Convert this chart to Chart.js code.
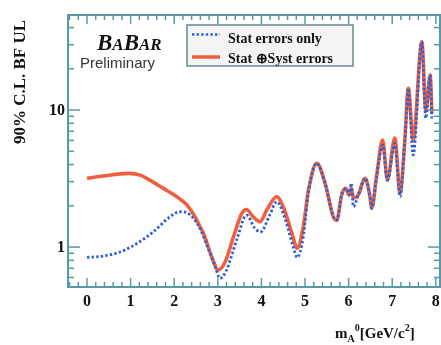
<!DOCTYPE html>
<html><head><meta charset="utf-8">
<script src="https://cdn.jsdelivr.net/npm/chart.js@4/dist/chart.umd.min.js"></script>
<style>html,body{margin:0;padding:0;background:#fff;overflow:hidden}#c{display:block}</style>
</head><body>
<canvas id="c" width="441" height="345"></canvas>
<script>
// ---- data ----
const massStat = [0,0.37,0.76,1.14,1.52,1.90,2.13,2.29,2.44,2.59,2.75,2.94,3.05,3.20,3.43,3.66,3.85,3.98,4.19,4.35,4.54,4.73,4.82,4.96,5.08,5.27,5.46,5.65,5.73,5.84,5.94,6.01,6.06,6.11,6.22,6.38,6.49,6.53,6.64,6.78,6.89,7.06,7.18,7.29,7.37,7.48,7.68,7.77,7.87,7.91];
const statOnly = [0.84,0.86,0.92,1.06,1.29,1.66,1.81,1.78,1.62,1.37,1.03,0.72,0.59,0.68,1.12,1.71,1.37,1.29,1.71,2.14,1.62,1.00,0.84,1.19,2.55,4.08,2.92,1.66,1.57,2.40,2.68,2.40,2.92,1.97,2.40,3.17,2.33,1.92,3.26,5.55,3.08,5.71,2.33,6.04,14.4,4.69,31.5,8.74,18.0,8.7];
const massSyst = [0,0.37,0.95,1.22,1.44,1.75,2.06,2.29,2.48,2.59,2.67,2.86,3.01,3.17,3.36,3.55,3.66,3.81,3.97,4.12,4.35,4.50,4.70,4.82,4.96,5.08,5.27,5.46,5.65,5.73,5.84,5.94,6.01,6.06,6.11,6.22,6.38,6.49,6.53,6.64,6.78,6.89,7.06,7.18,7.29,7.37,7.48,7.68,7.77,7.87,7.91];
const statSyst = [3.17,3.30,3.45,3.35,3.08,2.68,2.33,2.03,1.66,1.41,1.26,0.85,0.68,0.78,1.19,1.76,1.88,1.66,1.53,1.86,2.33,1.97,1.26,0.98,1.41,2.61,4.08,2.92,1.66,1.57,2.40,2.68,2.40,2.70,2.28,2.40,3.17,2.33,1.92,3.26,6.04,3.08,6.25,2.48,6.04,14.4,6.04,31.5,10.0,18.0,9.5];
const seriesNames = ['Stat errors only', 'Stat \u2295Syst errors'];
const xTickValues = [0,1,2,3,4,5,6,7,8];
const xTickLabels = ['0','1','2','3','4','5','6','7','8'];
const yTickValues = [1,10];
const yTickLabels = ['1','10'];
const yMinorValues = [0.6,0.7,0.8,0.9,2,3,4,5,6,7,8,9,20,30,40];

// ---- styles ----
const BLUE = '#2f5fd4';
const RED = '#ef6040';
const AXIS = '#5b98a6';
const SERIF = '"Liberation Serif","Times New Roman",serif';
const SANS = '"Liberation Sans",Arial,sans-serif';

const toPts = (xs, ys) => xs.map((v, i) => ({x: v, y: ys[i]}));

const decor = {
  id: 'decor',
  afterDraw(chart) {
    const {ctx, chartArea: a, scales: {x, y}} = chart;
    ctx.save();
    const seg = (x1, y1, x2, y2) => { ctx.beginPath(); ctx.moveTo(x1, y1); ctx.lineTo(x2, y2); ctx.stroke(); };
    // ticks
    ctx.strokeStyle = AXIS; ctx.lineWidth = 1.5;
    for (let i = -2; i <= 40; i++) {
      const px = x.getPixelForValue(i / 5);
      if (px < a.left + 1 || px > a.right - 1) continue;
      const len = (i % 5 === 0) ? 9 : 5;
      seg(px, a.bottom, px, a.bottom - len);
      seg(px, a.top, px, a.top + len);
    }
    yMinorValues.forEach(v => {
      const py = y.getPixelForValue(v);
      seg(a.left, py, a.left + 6, py); seg(a.right, py, a.right - 6, py);
    });
    yTickValues.forEach(v => {
      const py = y.getPixelForValue(v);
      seg(a.left, py, a.left + 12, py); seg(a.right, py, a.right - 12, py);
    });
    // frame
    ctx.lineWidth = 2;
    ctx.strokeRect(a.left, a.top, a.right - a.left, a.bottom - a.top);
    // tick labels
    ctx.fillStyle = '#111';
    ctx.font = 'bold 16px ' + SERIF;
    ctx.textAlign = 'center'; ctx.textBaseline = 'alphabetic';
    xTickValues.forEach((v, i) => ctx.fillText(xTickLabels[i], x.getPixelForValue(v), 306));
    ctx.textAlign = 'right'; ctx.textBaseline = 'middle';
    yTickValues.forEach((v, i) => ctx.fillText(yTickLabels[i], 65, y.getPixelForValue(v) + 1));
    // y title
    ctx.save();
    ctx.translate(21, 82); ctx.rotate(-Math.PI / 2);
    ctx.textAlign = 'center'; ctx.textBaseline = 'middle';
    ctx.font = 'bold 17px ' + SERIF;
    ctx.fillText('90% C.L. BF UL', 0, 0);
    ctx.restore();
    // x title  m_A^0[GeV/c^2]
    ctx.textAlign = 'left'; ctx.textBaseline = 'alphabetic';
    let cx = 335; const by = 338;
    const put = (t, size, dy) => { ctx.font = 'bold ' + size + 'px ' + SERIF; ctx.fillText(t, cx, by + dy); cx += ctx.measureText(t).width; };
    put('m', 15, 0); put('A', 10, 4); put('0', 10, -7); put('[GeV/c', 15, 0); put('2', 10, -7); put(']', 15, 0);
    // BaBar logo
    cx = 97;
    const logo = (t, size) => { ctx.font = 'italic bold ' + size + 'px ' + SERIF; ctx.fillText(t, cx, 50); cx += ctx.measureText(t).width; };
    logo('B', 23); logo('A', 17); logo('B', 23); logo('A', 17); logo('R', 17);
    ctx.font = '15px ' + SANS; ctx.fillStyle = '#333';
    ctx.fillText('Preliminary', 80, 68);
    // legend box
    ctx.fillStyle = '#f4f4f4'; ctx.fillRect(187, 25, 166, 41);
    ctx.strokeStyle = '#6f8f96'; ctx.lineWidth = 1.6; ctx.strokeRect(187, 25, 166, 41);
    ctx.lineWidth = 2.6; ctx.strokeStyle = BLUE; ctx.setLineDash([2.4, 2.2]);
    seg(192, 34.5, 220, 34.5);
    ctx.setLineDash([]); ctx.strokeStyle = RED; ctx.lineWidth = 3.5;
    seg(192, 57, 220, 57);
    ctx.fillStyle = '#111'; ctx.font = 'bold 14px ' + SERIF; ctx.textBaseline = 'middle';
    ctx.fillText(seriesNames[0], 228, 39);
    ctx.fillText(seriesNames[1], 228, 59);
    ctx.restore();
  }
};

new Chart(document.getElementById('c'), {
  type: 'line',
  data: {
    datasets: [
      { label: seriesNames[0], data: toPts(massStat, statOnly), borderColor: BLUE, borderWidth: 2.8,
        borderDash: [2.4, 2.2], borderCapStyle: 'butt', pointRadius: 0, cubicInterpolationMode: 'monotone', fill: false },
      { label: seriesNames[1], data: toPts(massSyst, statSyst), borderColor: RED, borderWidth: 3.6,
        pointRadius: 0, cubicInterpolationMode: 'monotone', fill: false }
    ]
  },
  options: {
    responsive: false, animation: false, devicePixelRatio: 1,
    layout: { padding: { left: 68, top: 15, right: 1, bottom: 58 } },
    plugins: { legend: { display: false }, tooltip: { enabled: false } },
    scales: {
      x: { type: 'linear', min: -0.436, max: 8.096, display: false },
      y: { type: 'logarithmic', min: 0.511, max: 49.4, display: false }
    }
  },
  plugins: [decor]
});
</script>
</body></html>
